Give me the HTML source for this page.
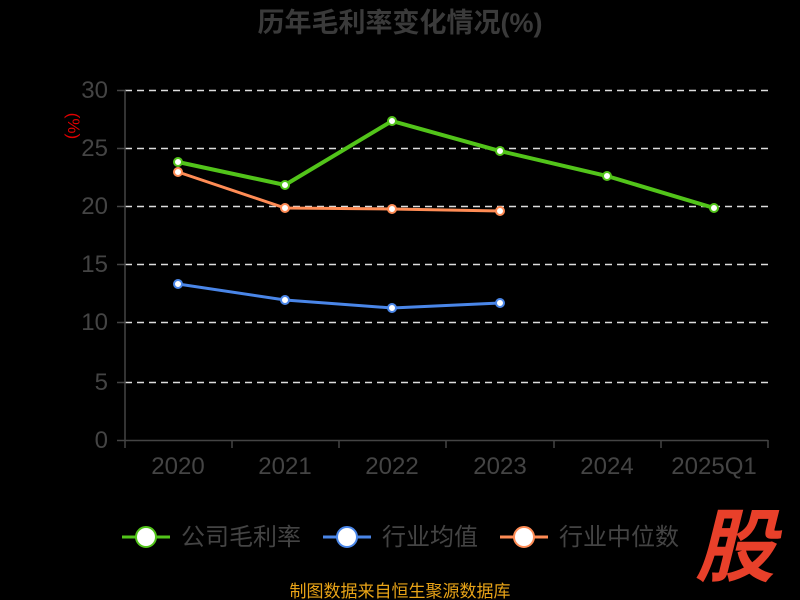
<!DOCTYPE html>
<html><head><meta charset="utf-8"><style>
html,body{margin:0;padding:0;background:#000;}
svg{display:block;font-family:"Liberation Sans","Noto Sans CJK SC",sans-serif;}
</style></head><body>
<svg width="800" height="600" viewBox="0 0 800 600">
<rect width="800" height="600" fill="#000"/>
<text x="400" y="32" text-anchor="middle" font-size="27" font-weight="bold" fill="#3a3a3a">历年毛利率变化情况(%)</text>
<text x="68" y="126" text-anchor="middle" font-size="17" fill="#e00000" transform="rotate(90 68 126)">(%)</text>
<g stroke="#ddd" stroke-width="1.5" stroke-dasharray="7,5">
<line x1="125" y1="90.5" x2="768" y2="90.5"/>
<line x1="125" y1="148.5" x2="768" y2="148.5"/>
<line x1="125" y1="206.5" x2="768" y2="206.5"/>
<line x1="125" y1="264.5" x2="768" y2="264.5"/>
<line x1="125" y1="322.5" x2="768" y2="322.5"/>
<line x1="125" y1="382.5" x2="768" y2="382.5"/>
</g>
<g stroke="#444" stroke-width="1.5">
<line x1="125" y1="90" x2="125" y2="440"/>
<line x1="125" y1="440.5" x2="768" y2="440.5"/>
<line x1="117" y1="90.5" x2="125" y2="90.5"/><line x1="117" y1="148.5" x2="125" y2="148.5"/>
<line x1="117" y1="206.5" x2="125" y2="206.5"/><line x1="117" y1="264.5" x2="125" y2="264.5"/>
<line x1="117" y1="322.5" x2="125" y2="322.5"/><line x1="117" y1="382.5" x2="125" y2="382.5"/>
<line x1="117" y1="440.5" x2="125" y2="440.5"/>
<line x1="125" y1="440" x2="125" y2="448"/><line x1="232" y1="440" x2="232" y2="448"/>
<line x1="339" y1="440" x2="339" y2="448"/><line x1="446" y1="440" x2="446" y2="448"/>
<line x1="554" y1="440" x2="554" y2="448"/><line x1="661" y1="440" x2="661" y2="448"/>
<line x1="768" y1="440" x2="768" y2="448"/>
</g>
<g font-size="24" fill="#444" text-anchor="end">
<text x="108" y="98">30</text><text x="108" y="156">25</text><text x="108" y="214">20</text>
<text x="108" y="272">15</text><text x="108" y="330">10</text><text x="108" y="390">5</text><text x="108" y="448">0</text>
</g>
<g font-size="24" fill="#444" text-anchor="middle">
<text x="178" y="474">2020</text><text x="285" y="474">2021</text><text x="392" y="474">2022</text>
<text x="500" y="474">2023</text><text x="607" y="474">2024</text><text x="714" y="474">2025Q1</text>
</g>
<polyline points="178,162 285,185 392,121 500,151 607,176 714,208" fill="none" stroke="#52c41a" stroke-width="4"/>
<polyline points="178,172 285,208 392,209 500,211" fill="none" stroke="#ff8c55" stroke-width="3"/>
<polyline points="178,284 285,300 392,308 500,303" fill="none" stroke="#4a86e8" stroke-width="3"/>
<g fill="#fff" stroke-width="2">
<g stroke="#52c41a"><circle cx="178" cy="162" r="4"/><circle cx="285" cy="185" r="4"/><circle cx="392" cy="121" r="4"/><circle cx="500" cy="151" r="4"/><circle cx="607" cy="176" r="4"/><circle cx="714" cy="208" r="4"/></g>
<g stroke="#ff8c55"><circle cx="178" cy="172" r="4"/><circle cx="285" cy="208" r="4"/><circle cx="392" cy="209" r="4"/><circle cx="500" cy="211" r="4"/></g>
<g stroke="#4a86e8"><circle cx="178" cy="284" r="4"/><circle cx="285" cy="300" r="4"/><circle cx="392" cy="308" r="4"/><circle cx="500" cy="303" r="4"/></g>
</g>
<g font-size="24" fill="#444">
<line x1="122" y1="537" x2="170" y2="537" stroke="#52c41a" stroke-width="3"/>
<circle cx="146" cy="537" r="10" fill="#fff" stroke="#52c41a" stroke-width="2"/>
<text x="181" y="545">公司毛利率</text>
<line x1="323" y1="537" x2="371" y2="537" stroke="#4a86e8" stroke-width="3"/>
<circle cx="347" cy="537" r="10" fill="#fff" stroke="#4a86e8" stroke-width="2"/>
<text x="382" y="545">行业均值</text>
<line x1="500" y1="537" x2="548" y2="537" stroke="#ff8c55" stroke-width="3"/>
<circle cx="524" cy="537" r="10" fill="#fff" stroke="#ff8c55" stroke-width="2"/>
<text x="559" y="545">行业中位数</text>
</g>
<text x="735" y="575" text-anchor="middle" font-size="80" font-weight="bold" font-style="italic" fill="#e8402a">股</text>
<text x="400" y="597" text-anchor="middle" font-size="17" fill="#e8a317">制图数据来自恒生聚源数据库</text>
</svg>
</body></html>
